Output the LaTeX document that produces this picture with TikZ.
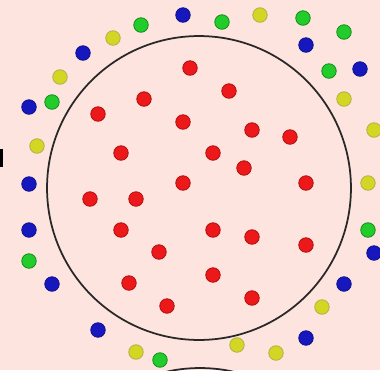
\documentclass[tikz,border=0pt]{standalone}
\usepackage{tikz}
\usetikzlibrary{positioning}
\definecolor{BgPink}{RGB}{253,228,222}
\definecolor{RingGray}{RGB}{40,40,40}
\definecolor{DotRed}{RGB}{236,24,26}
\definecolor{DotBlue}{RGB}{22,24,190}
\definecolor{DotGreen}{RGB}{34,204,42}
\definecolor{DotYellow}{RGB}{212,214,36}
\tikzset{
  ring/.style={
    circle,
    draw=RingGray,
    line width=1pt,
    minimum size=6.08cm,
    inner sep=0pt
  },
  dot/.style={
    circle,
    inner sep=0pt,
    minimum size=0.29cm,
    line width=0.5pt
  },
  reddot/.style={dot,fill=DotRed,draw=DotRed!75!black},
  bluedot/.style={dot,fill=DotBlue,draw=DotBlue!75!black},
  greendot/.style={dot,fill=DotGreen,draw=DotGreen!70!black},
  yellowdot/.style={dot,fill=DotYellow,draw=DotYellow!60!gray}
}

\begin{document}
\begin{tikzpicture}[x=0.02cm,y=-0.02cm]
    \fill[BgPink] (0,0) rectangle (380,370);
    \useasboundingbox (0,0) rectangle (380,370);
    \begin{scope}
      \clip (0,0) rectangle (380,370);
      \node[ring] (lower) at (200,520) {};
      \fill[black] (0,149) rectangle (3,167);
    \end{scope}
    \node[ring] (main) at (199,188) {};
    % inside
    \foreach \p [count=\i] in {(190,68),(229,91),(144,99),(98,114),(183,122),(252,130),
        (290,137),(121,153),(213,153),(244,168),(183,183),(306,183),(90,199),(136,199),
        (121,230),(213,230),(252,237),(159,252),(306,245),(213,275),(129,283),(252,298),(167,306)}
      \node[reddot] (r\i) at \p {};
    % outside
    \foreach \p [count=\i] in {(183,15),(83,53),(29,107),(29,184),(29,230),(52,284),
        (98,330),(306,45),(360,69),(374,253),(344,284),(306,338)}
      \node[bluedot] (b\i) at \p {};
    \foreach \p [count=\i] in {(141,25),(222,22),(303,18),(344,32),(329,71),(52,102),
        (29,261),(160,360),(368,230)}
      \node[greendot] (g\i) at \p {};
    \foreach \p [count=\i] in {(113,38),(260,15),(60,77),(37,146),(344,99),(374,130),
        (368,183),(322,307),(136,352),(237,345),(276,353)}
      \node[yellowdot] (y\i) at \p {};
  \end{tikzpicture}
\end{document}
